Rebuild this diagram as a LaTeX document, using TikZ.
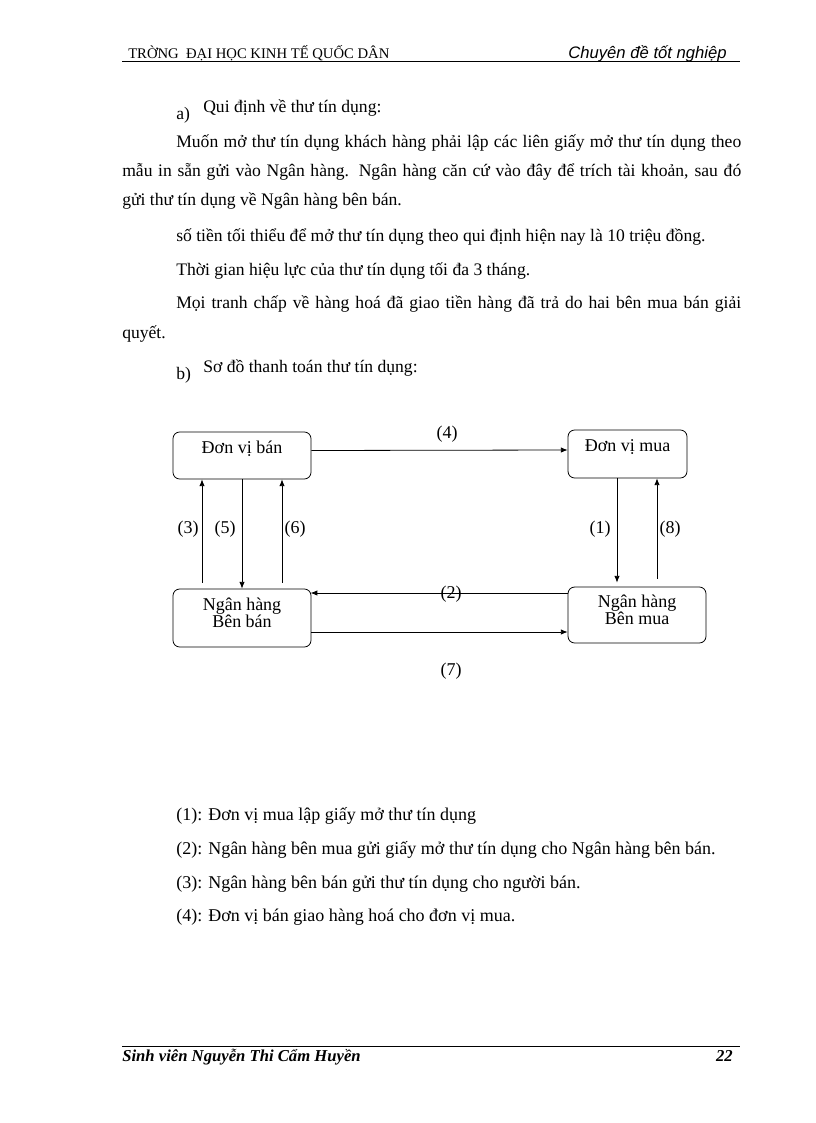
\documentclass[tikz,border=0pt]{standalone}
\usepackage{fontspec}
\setmainfont{Liberation Serif}
\newfontfamily\hdsans{Liberation Sans}
\usepackage{tikz}
\usetikzlibrary{arrows.meta,positioning,calc}
\tikzset{
  body/.style={anchor=base west, inner sep=0pt, font=\fontsize{13.2}{15}\selectfont},
  legend/.style={anchor=base west, inner sep=0pt, font=\fontsize{13.5}{15}\selectfont},
  party/.style={draw=black, line width=0.6pt, rounded corners=5pt, align=center,
    font=\fontsize{13.5}{12}\selectfont, inner sep=1pt},
  num/.style={inner sep=0pt, font=\fontsize{13.5}{15}\selectfont},
  flow/.style={-{Latex[length=5pt,width=4pt]}, line width=0.6pt},
  rule/.style={line width=0.6pt}
}
\newcommand{\jline}[2]{\makebox[#1][s]{#2}}

\begin{document}
\begin{tikzpicture}[x=0.75pt, y=-0.75pt]
  \useasboundingbox[fill=white] (0,0) rectangle (816,1123);

  % header and footer
  \coordinate (hdl) at (122,61);
  \coordinate (hdr) at (740,61);
  \draw[rule] (hdl) -- (hdr);
  \node[anchor=base west, inner sep=0pt, font=\fontsize{11}{12}\selectfont] (school) at (128,59)
    {TRỜNG\ \ ĐẠI HỌC KINH TẾ QUỐC DÂN};
  \node[anchor=base east, inner sep=0pt, font=\hdsans\itshape\fontsize{12.5}{14}\selectfont] (topic) at (727,59)
    {Chuyên đề tốt nghiệp};
  \coordinate (ftl) at (122,1046);
  \coordinate (ftr) at (740,1046);
  \draw[rule] (ftl) -- (ftr);
  \node[anchor=base west, inner sep=0pt, font=\bfseries\itshape\fontsize{12.5}{14}\selectfont] (student) at (122,1061)
    {Sinh viên Nguyễn Thi Cẩm Huyền};
  \node[anchor=base east, inner sep=0pt, font=\bfseries\itshape\fontsize{12.5}{14}\selectfont] (page) at (733,1061) {22};

  % text above the diagram
  \node[body] (ta) at (176,120) {a)};
  \node[body] (t1) at (203,113) {Qui định về thư tín dụng:};
  \node[body] (t2) at (176,148) {\jline{423.75pt}{Muốn mở thư tín dụng khách hàng phải lập các liên giấy mở thư tín dụng theo}};
  \node[body] (t3) at (122,177) {\jline{464.25pt}{mẫu in sẵn gửi vào Ngân hàng. Ngân hàng căn cứ vào đây để trích tài khoản, sau đó}};
  \node[body] (t4) at (122,206) {gửi thư tín dụng về Ngân hàng bên bán.};
  \node[body] (t5) at (176,242) {số tiền tối thiểu để mở thư tín dụng theo qui định hiện nay là 10 triệu đồng.};
  \node[body] (t6) at (176,275) {Thời gian hiệu lực của thư tín dụng tối đa 3 tháng.};
  \node[body] (t7) at (176,308) {\jline{423.75pt}{Mọi tranh chấp về hàng hoá đã giao tiền hàng đã trả do hai bên mua bán giải}};
  \node[body] (t8) at (122,338) {quyết.};
  \node[body] (tb) at (176,379) {b)};
  \node[body] (t9) at (203,372) {Sơ đồ thanh toán thư tín dụng:};

  % diagram
  \node[party, minimum width=103.5pt, minimum height=35.25pt] (ban) at (242,455.5) {Đơn vị bán\\[0pt]};
  \node[party, minimum width=89.25pt, minimum height=36pt] (mua) at (627.5,454) {Đơn vị mua\\[0pt]};
  \node[party, minimum width=103.5pt, minimum height=43.5pt] (nhb) at (242,618) {Ngân hàng\\Bên bán\\[-4pt]};
  \node[party, minimum width=103.5pt, minimum height=42pt] (nhm) at (637,615) {Ngân hàng\\Bên mua\\[-4pt]};

  \draw[flow] ($(ban.east)+(0,-5)$) -- ($(mua.west)+(0,-4)$);
  \draw[flow] ($(nhb.north)+(-40,-6)$) -- ($(ban.south)+(-40,0)$);
  \draw[flow] (ban.south) -- (nhb.north);
  \draw[flow] ($(nhb.north)+(40,-6)$) -- ($(ban.south)+(40,0)$);
  \draw[flow] ($(mua.south)+(-10.5,0)$) -- ($(nhm.north)+(-20,-4)$);
  \draw[flow] ($(nhm.north)+(20,-8)$) -- ($(mua.south)+(29.5,0)$);
  \draw[flow] ($(nhm.west)+(0,-22)$) -- ($(nhb.west)+(138,-25)$);
  \draw[flow] ($(nhb.east)+(0,14)$) -- ($(nhm.west)+(0,17)$);

  \node[num] (n4) at (447,434) {(4)};
  \node[num] (n3) at (188,529) {(3)};
  \node[num] (n5) at (225,529) {(5)};
  \node[num] (n6) at (295,529) {(6)};
  \node[num] (n1) at (600,529) {(1)};
  \node[num] (n8) at (670,529) {(8)};
  \node[num] (n2) at (451,594) {(2)};
  \node[num] (n7) at (451,671) {(7)};

  % legend
  \node[legend] (l1) at (176,820) {(1): Đơn vị mua lập giấy mở thư tín dụng};
  \node[legend] (l2) at (176,854) {(2): Ngân hàng bên mua gửi giấy mở thư tín dụng cho Ngân hàng bên bán.};
  \node[legend] (l3) at (176,888) {(3): Ngân hàng bên bán gửi thư tín dụng cho người bán.};
  \node[legend] (l4) at (176,921) {(4): Đơn vị bán giao hàng hoá cho đơn vị mua.};
\end{tikzpicture}
\end{document}
